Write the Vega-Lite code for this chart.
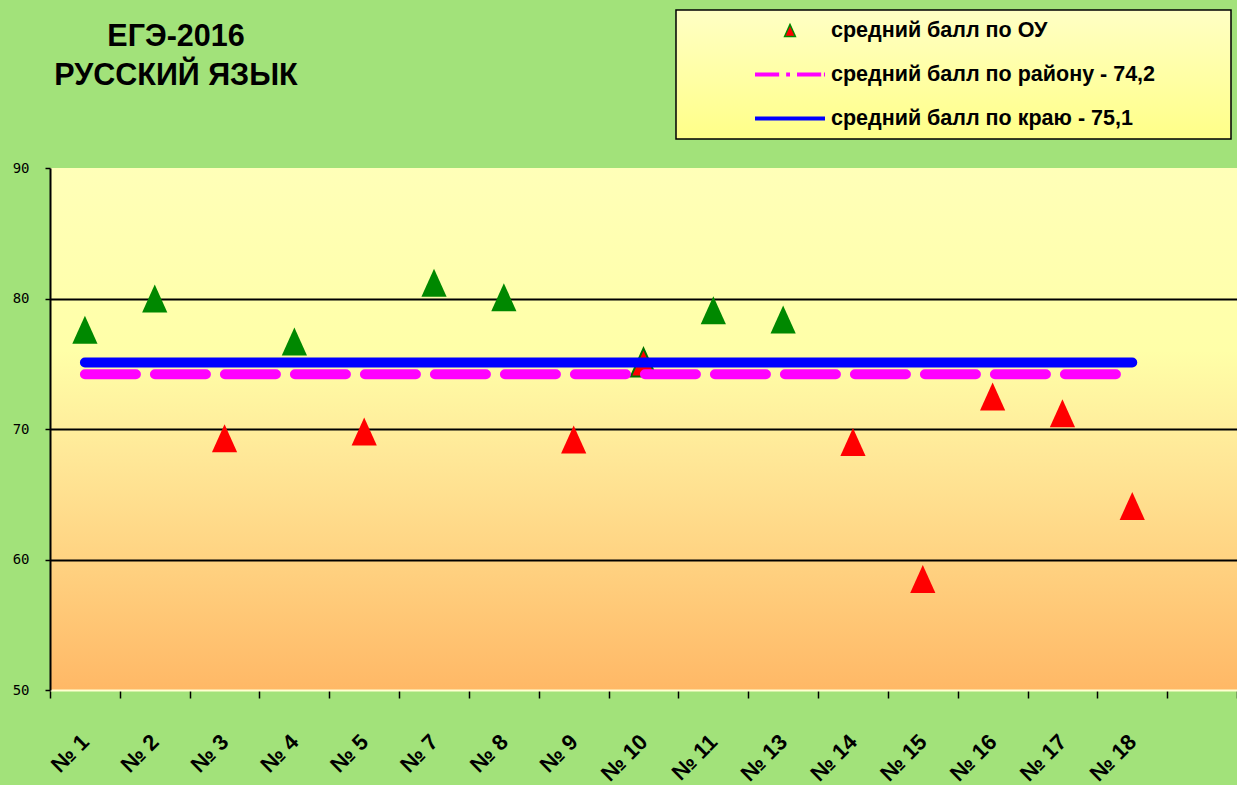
{
  "$schema": "https://vega.github.io/schema/vega-lite/v6.json",
  "width": 1187,
  "height": 522,
  "autosize": {"type": "none"},
  "padding": {"left": 50, "top": 168, "right": 0, "bottom": 95},
  "background": "#a2e27a",
  "title": {
    "text": ["ЕГЭ-2016", "РУССКИЙ ЯЗЫК"],
    "anchor": "start",
    "align": "center",
    "dx": 126,
    "offset": -82,
    "font": "Liberation Sans",
    "fontSize": 30.5,
    "fontWeight": "bold",
    "color": "black",
    "lineHeight": 39,
    "frame": "group"
  },
  "config": {
    "view": {
      "stroke": null,
      "fill": {
        "gradient": "linear",
        "x1": 0, "y1": 0, "x2": 0, "y2": 1,
        "stops": [
          {"offset": 0, "color": "#ffffb8"},
          {"offset": 0.35, "color": "#ffffa8"},
          {"offset": 0.55, "color": "#ffe898"},
          {"offset": 1, "color": "#ffb866"}
        ]
      }
    }
  },
  "data": {
    "values": [
      {"школа": "№ 1", "балл": 77.6, "район": 74.2, "край": 75.1},
      {"школа": "№ 2", "балл": 80.0, "район": 74.2, "край": 75.1},
      {"школа": "№ 3", "балл": 69.3, "район": 74.2, "край": 75.1},
      {"школа": "№ 4", "балл": 76.7, "район": 74.2, "край": 75.1},
      {"школа": "№ 5", "балл": 69.8, "район": 74.2, "край": 75.1},
      {"школа": "№ 7", "балл": 81.2, "район": 74.2, "край": 75.1},
      {"школа": "№ 8", "балл": 80.1, "район": 74.2, "край": 75.1},
      {"школа": "№ 9", "балл": 69.2, "район": 74.2, "край": 75.1},
      {"школа": "№ 10", "балл": 75.1, "район": 74.2, "край": 75.1},
      {"школа": "№ 11", "балл": 79.1, "район": 74.2, "край": 75.1},
      {"школа": "№ 13", "балл": 78.4, "район": 74.2, "край": 75.1},
      {"школа": "№ 14", "балл": 69.0, "район": 74.2, "край": 75.1},
      {"школа": "№ 15", "балл": 58.5, "район": 74.2, "край": 75.1},
      {"школа": "№ 16", "балл": 72.5, "район": 74.2, "край": 75.1},
      {"школа": "№ 17", "балл": 71.2, "район": 74.2, "край": 75.1},
      {"школа": "№ 18", "балл": 64.1, "район": 74.2, "край": 75.1}
    ]
  },
  "layer": [
    {
      "mark": {"type": "point", "filled": true, "shape": "M0,-1L-0.9,1L0.9,1Z", "size": 784, "opacity": 1},
      "encoding": {
        "x": {
          "field": "школа",
          "type": "nominal",
          "sort": null,
          "scale": {
            "type": "band",
            "domain": ["№ 1", "№ 2", "№ 3", "№ 4", "№ 5", "№ 7", "№ 8", "№ 9", "№ 10", "№ 11", "№ 13", "№ 14", "№ 15", "№ 16", "№ 17", "№ 18", ""],
            "paddingInner": 0,
            "paddingOuter": 0
          },
          "axis": {
            "title": null,
            "labelAngle": -45,
            "labelAlign": "right",
            "labelBaseline": "middle",
            "labelFont": "Liberation Sans",
            "labelFontSize": 22,
            "labelFontWeight": "bold",
            "labelColor": "black",
            "labelPadding": 40,
            "labelOverlap": false,
            "tickBand": "extent",
            "tickColor": "black",
            "tickSize": 8,
            "tickWidth": 1.5,
            "domainColor": "#ffffd0",
            "domainWidth": 2,
            "grid": false
          }
        },
        "y": {
          "field": "балл",
          "type": "quantitative",
          "scale": {"domain": [50, 90], "nice": false, "zero": false},
          "axis": {
            "title": null,
            "values": [50, 60, 70, 80, 90],
            "grid": true,
            "gridColor": {"condition": {"test": "datum.value === 90 || datum.value === 50", "value": "transparent"}, "value": "black"},
            "gridWidth": 2,
            "domainColor": "black",
            "domainWidth": 2,
            "tickColor": "black",
            "tickSize": 5,
            "tickWidth": 1.5,
            "labelFont": "DejaVu Sans Mono",
            "labelFontSize": 14,
            "labelColor": "black",
            "labelPadding": 16
          }
        },
        "fill": {"condition": {"test": "datum['балл'] > datum['край']", "value": "#008800"}, "value": "#ff0000"},
        "stroke": {"condition": {"test": "datum['балл'] === datum['край']", "value": "#007000"}, "value": "transparent"},
        "strokeWidth": {"value": 2}
      }
    },
    {
      "transform": [{"fold": ["район", "край"], "as": ["серия", "значение"]}],
      "mark": {"type": "line", "strokeWidth": 10, "strokeCap": "round"},
      "encoding": {
        "x": {"field": "школа", "type": "nominal", "sort": null},
        "y": {"field": "значение", "type": "quantitative"},
        "color": {
          "field": "серия",
          "type": "nominal",
          "scale": {"domain": ["ОУ", "район", "край"], "range": ["#008800", "#ff00ff", "#0000ff"]},
          "legend": {
            "orient": "none",
            "legendX": 626,
            "legendY": -158,
            "title": null,
            "labelExpr": "datum.value === 'ОУ' ? 'средний балл по ОУ' : datum.value === 'район' ? 'средний балл по району - 74,2' : 'средний балл по краю - 75,1'",
            "labelFont": "Liberation Sans",
            "labelFontSize": 21.5,
            "labelFontWeight": "bold",
            "labelColor": "black",
            "labelLimit": 0,
            "symbolSize": 4900,
            "symbolType": "stroke",
            "symbolStrokeWidth": 4,
            "clipHeight": 41,
            "rowPadding": 3,
            "padding": 0,
            "fillColor": "#ffffa8",
            "strokeColor": "black",
            "encode": {
              "legend": {
                "update": {
                  "fill": {"value": {"gradient": "linear", "x1": 0, "y1": 0, "x2": 0, "y2": 1, "stops": [{"offset": 0, "color": "#ffffc4"}, {"offset": 1, "color": "#ffff88"}]}},
                  "stroke": {"value": "black"},
                  "strokeWidth": {"value": 1.5}
                }
              },
              "entries": {
                "update": {"width": {"value": 555}}
              },
              "labels": {
                "update": {"x": {"value": 155}}
              },
              "symbols": {
                "update": {
                  "x": {"value": 114},
                  "shape": {"signal": "datum.value === 'ОУ' ? 'M0,-1L-0.9,1L0.9,1Z' : datum.value === 'район' ? 'M-1,0H-0.31M-0.11,0H0M0.2,0H0.89M0.97,0H1' : 'M-1,0H1'"},
                  "size": {"signal": "datum.value === 'ОУ' ? 144 : 4900"},
                  "fill": {"signal": "datum.value === 'ОУ' ? '#ff0000' : 'transparent'"},
                  "stroke": {"signal": "datum.value === 'ОУ' ? '#008800' : datum.value === 'район' ? '#ff00ff' : '#0000ff'"},
                  "strokeWidth": {"signal": "datum.value === 'ОУ' ? 1.5 : 4"},
                  "opacity": {"value": 1}
                }
              }
            }
          }
        },
        "strokeDash": {
          "field": "серия",
          "type": "nominal",
          "scale": {"domain": ["ОУ", "район", "край"], "range": [[1, 0], [51, 19], [1, 0]]},
          "legend": null
        }
      }
    }
  ]
}
